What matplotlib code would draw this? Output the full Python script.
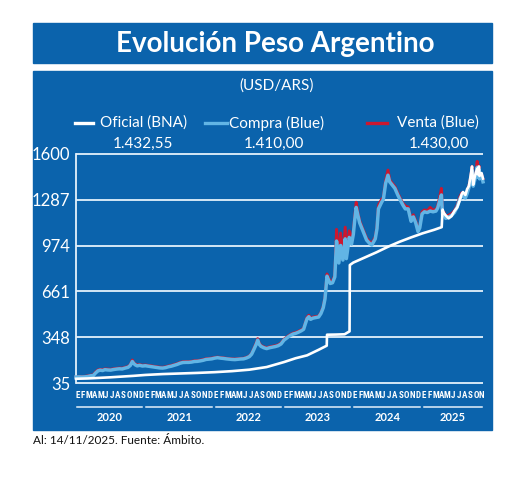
import numpy as np
import matplotlib
matplotlib.use('Agg')
import matplotlib.pyplot as plt
from matplotlib.patches import Rectangle
from matplotlib.lines import Line2D
from matplotlib import font_manager as fm

# ---------------- data ----------------
years = ['2020', '2021', '2022', '2023', '2024', '2025']
month_letters = ['E', 'F', 'M', 'A', 'M', 'J', 'J', 'A', 'S', 'O', 'N', 'D']
n_months = 71                      # Jan 2020 .. Nov 2025
last_t = 70.45                     # 14/11/2025 in months since 1/1/2020
yticks = [35, 348, 661, 974, 1287, 1600]

legend_labels = ['Oficial (BNA)', 'Compra (Blue)', 'Venta (Blue)']
legend_values = ['1.432,55', '1.410,00', '1.430,00']

# Oficial (BNA) - months since Jan 2020
oficial_t = [0, 2, 4, 6, 8, 10, 12, 15, 18, 21, 24, 27, 30, 33, 36, 38, 40, 42,
             43.4, 43.45, 45, 46.5, 47.0, 47.35, 47.4, 48, 50, 52, 54, 56, 58, 60,
             62, 63.3, 63.45, 63.7, 64.0, 64.5, 65.0, 65.5, 66.0, 66.4, 66.8,
             67.0, 67.4, 67.7, 68.0, 68.3, 68.55, 68.75, 69.0, 69.2, 69.45,
             69.6, 69.75, 69.85, 70.0, 70.2, 70.45]
oficial = [64, 66, 70, 74, 79, 84, 90, 96, 100, 104, 109, 116, 126, 144, 178,
           204, 224, 262, 290, 365, 366, 368, 380, 388, 841, 858, 893, 928, 966,
           1000, 1030, 1058, 1082, 1100, 1220, 1195, 1180, 1160, 1175, 1210,
           1235, 1280, 1330, 1340, 1320, 1360, 1380, 1450, 1515, 1390, 1440,
           1470, 1500, 1460, 1515, 1450, 1460, 1470, 1432.55]

# Dólar blue - months since Jan 2020
blue_t = [0.0, 0.5, 1.0, 1.5, 2.0, 2.5, 3.0, 3.4, 3.8, 4.2, 4.6, 5.0, 5.5, 6.0,
          6.5, 7.0, 7.5, 8.0, 8.5, 9.0, 9.4, 9.75, 10.0, 10.3, 10.6, 11.0, 11.5,
          12.0, 12.5, 13.0, 13.5, 14.0, 14.5, 15.0, 15.5, 16.0, 16.5, 17.0, 17.5,
          18.0, 18.5, 19.0, 19.5, 20.0, 20.5, 21.0, 21.5, 22.0, 22.5, 23.0, 23.5,
          24.0, 24.5, 25.0, 25.5, 26.0, 26.5, 27.0, 27.5, 28.0, 28.5, 29.0, 29.5,
          30.0, 30.4, 30.8, 31.2, 31.45, 31.7, 32.0, 32.5, 33.0, 33.5, 34.0, 34.5,
          35.0, 35.5, 36.0, 36.4, 36.8, 37.2, 37.6, 38.0, 38.5, 39.0, 39.4, 39.7,
          40.0, 40.3, 40.6, 41.0, 41.5, 42.0, 42.4, 42.8, 43.1, 43.35, 43.45,
          43.7, 44.0, 44.4, 44.8, 45.1, 45.5, 45.8, 46.2, 46.6, 46.8, 47.3, 47.7,
          48.0, 48.25, 48.5, 48.8, 49.1, 49.4, 49.8, 50.3, 50.8, 51.2, 51.8, 52.1,
          52.35, 52.9, 53.2, 53.6, 54.0, 54.3, 54.7, 55.2, 55.7, 56.2, 56.6, 57.0,
          57.5, 58.0, 58.4, 58.8, 59.2, 59.5, 59.9, 60.3, 60.8, 61.3, 61.8, 62.3,
          62.6, 62.95, 63.25, 63.45, 63.7, 64.0, 64.5, 65.0, 65.5, 66.0, 66.4,
          66.8, 67.0, 67.4, 67.7, 68.0, 68.3, 68.55, 68.75, 69.0, 69.2, 69.45,
          69.6, 69.75, 69.85, 70.0, 70.2, 70.45]
blue_compra = [76, 77, 76, 77, 79, 84, 86, 104, 118, 123, 120, 126, 124, 123,
               127, 130, 132, 131, 137, 142, 155, 182, 168, 158, 152, 156, 151,
               153, 150, 147, 144, 141, 138, 137, 140, 146, 150, 156, 162, 170,
               175, 176, 176, 178, 182, 183, 186, 190, 196, 198, 200, 205, 208,
               205, 203, 200, 198, 196, 195, 197, 199, 200, 206, 215, 232, 265,
               300, 328, 300, 286, 276, 270, 276, 280, 284, 290, 302, 328, 340,
               352, 362, 370, 374, 382, 392, 402, 440, 475, 488, 470, 478, 482,
               486, 510, 550, 610, 720, 765, 740, 715, 720, 760, 1005, 855, 975,
               875, 1020, 885, 1030, 985, 1050, 1150, 1235, 1180, 1130, 1100,
               1060, 1012, 990, 978, 1020, 1090, 1225, 1270, 1290, 1400, 1455,
               1410, 1390, 1365, 1320, 1280, 1250, 1225, 1225, 1140, 1170, 1130,
               1070, 1095, 1190, 1205, 1200, 1210, 1205, 1210, 1230, 1280, 1320,
               1180, 1190, 1160, 1170, 1180, 1200, 1240, 1290, 1320, 1310, 1300,
               1330, 1370, 1420, 1490, 1380, 1420, 1450, 1510, 1440, 1495, 1430,
               1440, 1450, 1410]
blue_venta = [79, 80, 79, 80, 83, 88, 90, 110, 124, 128, 126, 131, 130, 128,
              132, 135, 137, 136, 142, 147, 160, 192, 174, 164, 158, 161, 156,
              158, 155, 152, 149, 146, 143, 142, 145, 151, 155, 161, 167, 175,
              180, 181, 181, 183, 187, 188, 191, 195, 201, 203, 205, 209, 212,
              209, 207, 204, 202, 200, 199, 201, 203, 204, 210, 219, 237, 272,
              310, 338, 308, 292, 282, 276, 282, 286, 290, 296, 308, 334, 346,
              358, 368, 376, 380, 388, 398, 408, 446, 485, 498, 478, 485, 489,
              492, 516, 558, 620, 735, 780, 755, 728, 732, 772, 1085, 870, 1060,
              890, 1100, 900, 1075, 1000, 1075, 1170, 1270, 1195, 1145, 1112,
              1072, 1024, 1002, 990, 1032, 1102, 1250, 1290, 1302, 1420, 1490,
              1425, 1402, 1378, 1333, 1292, 1262, 1245, 1237, 1152, 1185, 1142,
              1082, 1107, 1205, 1218, 1212, 1235, 1217, 1222, 1245, 1305, 1365,
              1192, 1202, 1172, 1182, 1192, 1212, 1252, 1305, 1335, 1322, 1312,
              1345, 1382, 1435, 1515, 1392, 1432, 1462, 1550, 1452, 1520, 1442,
              1452, 1462, 1430]

# ---------------- style ----------------
W, H = 520, 478
PANEL = '#0b63ac'
LIGHTBLUE = '#62b5e5'
RED = '#cc1830'
GRID = '#e4f1fb'

names = {f.name for f in fm.fontManager.ttflist}
def pick(*cands):
    for c in cands:
        if c in names:
            return c
    return 'DejaVu Sans'
MAIN = pick('Lato', 'Open Sans', 'Liberation Sans')
NARROW = pick('Liberation Sans Narrow', 'DejaVu Sans Condensed', 'Roboto Condensed', 'Liberation Sans')
plt.rcParams['font.family'] = [MAIN, 'DejaVu Sans']

fig = plt.figure(figsize=(W / 100, H / 100), dpi=100)
fig.patch.set_facecolor('white')

def fx(px):
    return px / W

def fy(py):
    return 1 - py / H

# title band and main panel (behind the axes)
fig.patches.append(Rectangle((fx(33), fy(63)), fx(492) - fx(33), fy(23) - fy(63),
                             transform=fig.transFigure, color=PANEL, zorder=-5))
fig.patches.append(Rectangle((fx(33), fy(430)), fx(492) - fx(33), fy(71) - fy(430),
                             transform=fig.transFigure, color=PANEL, zorder=-5))

fig.text(fx(275), fy(44), 'Evolución Peso Argentino', color='white',
         fontsize=20, fontweight='bold', ha='center', va='center')
fig.text(fx(277), fy(86), '(USD/ARS)', color='white', fontsize=11,
         ha='center', va='center')

# legend (manual)
leg_handles_x = [(75, 93), (205, 227), (367, 387)]
leg_text_x = [100, 229, 397]
leg_value_x = [143, 274, 439]
leg_colors = ['white', LIGHTBLUE, RED]
for (x0, x1), tx, vx, col, lab, val in zip(leg_handles_x, leg_text_x, leg_value_x,
                                            leg_colors, legend_labels, legend_values):
    fig.add_artist(Line2D([fx(x0), fx(x1)], [fy(123), fy(123)], color=col, lw=2.4,
                          transform=fig.transFigure))
    fig.text(fx(tx), fy(123), lab, color='white', fontsize=11, ha='left', va='center')
    fig.text(fx(vx), fy(144), val, color='white', fontsize=11, ha='center', va='center')

# ---------------- axes ----------------
ax = fig.add_axes([fx(76), fy(383), fx(483) - fx(76), fy(154) - fy(383)], zorder=2)
ax.set_facecolor('none')
ax.set_xlim(0, last_t)
ax.set_ylim(yticks[0], yticks[-1])

ax.hlines(yticks, 0, last_t, colors=GRID, lw=1.3, zorder=1, clip_on=False)

ax.plot(blue_t, blue_venta, color=RED, lw=2.1, zorder=2, solid_joinstyle='round',
        clip_on=False)
ax.plot(blue_t, blue_compra, color=LIGHTBLUE, lw=2.5, zorder=3, solid_joinstyle='round',
        clip_on=False)
ax.plot(oficial_t, oficial, color='white', lw=1.9, zorder=4, clip_on=False)

for s in ['top', 'right', 'bottom']:
    ax.spines[s].set_visible(False)
ax.spines['left'].set_color(GRID)
ax.spines['left'].set_linewidth(1.3)

ax.set_yticks(yticks)
ax.set_yticklabels([str(v) for v in yticks], color='white', fontsize=12)
ax.tick_params(axis='y', length=0, pad=4)

ax.set_xticks(np.arange(n_months) + 0.22)
ax.set_xticklabels([month_letters[i % 12] for i in range(n_months)], color='white',
                   fontsize=6.5, fontweight='bold', family=NARROW)
ax.tick_params(axis='x', length=0, pad=6)

xt = ax.get_xaxis_transform()
for k, yr in enumerate(years):
    x0 = 12 * k + 0.2
    x1 = min(12 * k + 11.5, last_t - 0.2)
    ax.plot([x0, x1], [-0.105, -0.105], color=GRID, lw=1.1, transform=xt, clip_on=False)
    ax.text((x0 + x1) / 2, -0.150, yr, color='white', fontsize=8, fontweight='bold',
            ha='center', va='center', transform=xt)

fig.text(fx(33), fy(440), 'Al: 14/11/2025. Fuente: Ámbito.', color='#111111',
         fontsize=8.5, ha='left', va='center')

fig.savefig('out.png', dpi=100, facecolor='white')
